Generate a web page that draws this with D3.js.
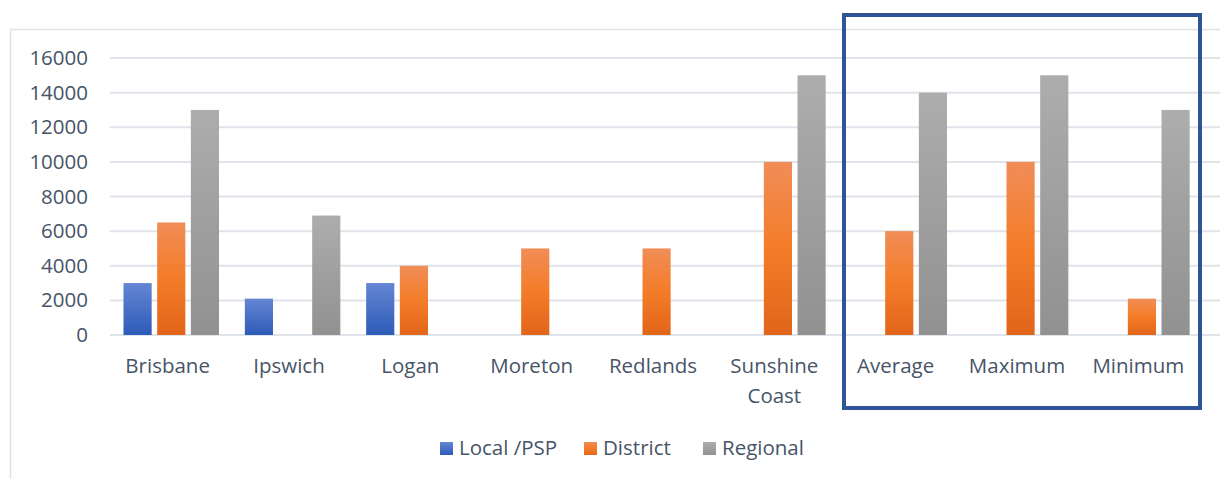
<!DOCTYPE html>
<html>
<head>
<meta charset="utf-8">
<script src="https://cdn.jsdelivr.net/npm/d3@7"></script>
<style>
  body { margin: 0; background: #fff; }
  svg { display: block; font-family: "Open Sans", "Noto Sans", sans-serif; }
</style>
</head>
<body>
<script>
const width = 1220;
const height = 479;

const categories = ['Brisbane', 'Ipswich', 'Logan', 'Moreton', 'Redlands', 'Sunshine Coast', 'Average', 'Maximum', 'Minimum'];
const seriesNames = ['Local /PSP', 'District', 'Regional'];
const localPsp = [3000, 2100, 3000, 0, 0, 0, 0, 0, 0];
const district = [6500, 0, 4000, 5000, 5000, 10000, 6000, 10000, 2100];
const regional = [13000, 6900, 0, 0, 0, 15000, 14000, 15000, 13000];
const yTicks = [0, 2000, 4000, 6000, 8000, 10000, 12000, 14000, 16000];
const highlighted = ['Average', 'Maximum', 'Minimum'];

const seriesValues = [localPsp, district, regional];
const gradients = [
    ['#6486d3', '#2d5bb8'],
    ['#f08d57', '#f47c28', '#e1651a'],
    ['#adadad', '#919191']
];
const textColor = '#475468';

const svg = d3.select('body').append('svg')
    .attr('width', width)
    .attr('height', height);

const defs = svg.append('defs');
gradients.forEach((stops, i) => {
    const g = defs.append('linearGradient')
        .attr('id', 'grad' + i)
        .attr('x1', 0).attr('y1', 0).attr('x2', 0).attr('y2', 1);
    stops.forEach((c, j) => {
        g.append('stop')
            .attr('offset', j / (stops.length - 1))
            .attr('stop-color', c);
    });
});

// chart area border
svg.append('rect')
    .attr('x', 10.5).attr('y', 29.5)
    .attr('width', 1240).attr('height', 480)
    .attr('fill', 'none')
    .attr('stroke', '#dde1e8')
    .attr('stroke-width', 1.5);

const x0 = d3.scaleBand().domain(categories).range([107, 1199]);
const x1 = d3.scaleBand().domain(seriesNames).range([16.5, 112]).paddingInner(0.164);
const y = d3.scaleLinear().domain([0, 16000]).range([335, 58]);

// gridlines
svg.append('g').selectAll('line')
    .data(yTicks)
    .enter().append('line')
    .attr('x1', 110).attr('x2', width)
    .attr('y1', d => y(d)).attr('y2', d => y(d))
    .attr('stroke', '#dfe3ea')
    .attr('stroke-width', 2);

// y axis labels
const yAxis = d3.axisLeft(y).tickValues(yTicks).tickSize(0).tickPadding(0).tickFormat(d3.format('d'));
svg.append('g')
    .attr('transform', 'translate(88,0)')
    .call(yAxis)
    .call(g => g.select('.domain').remove())
    .call(g => g.selectAll('text')
        .attr('fill', textColor)
        .attr('font-size', 20.5)
        .attr('font-family', '"Open Sans", sans-serif'));

// bars
const rows = categories.map((c, i) => ({ cat: c, vals: seriesValues.map(s => s[i]) }));
const groups = svg.append('g').selectAll('g')
    .data(rows)
    .enter().append('g')
    .attr('transform', d => `translate(${x0(d.cat)},0)`);

groups.selectAll('rect')
    .data(d => d.vals.map((v, i) => ({ v, i })).filter(e => e.v > 0))
    .enter().append('rect')
    .attr('x', d => x1(seriesNames[d.i]))
    .attr('width', x1.bandwidth())
    .attr('y', d => y(d.v))
    .attr('height', d => y(0) - y(d.v))
    .attr('fill', d => `url(#grad${d.i})`);

// category labels
const xLabels = svg.append('g').selectAll('text')
    .data(categories)
    .enter().append('text')
    .attr('x', d => x0(d) + x0.bandwidth() / 2)
    .attr('y', 373)
    .attr('text-anchor', 'middle')
    .attr('fill', textColor)
    .attr('font-size', 20.5);
xLabels.each(function (d) {
    const words = d.split(' ');
    const t = d3.select(this);
    words.forEach((w, i) => {
        t.append('tspan')
            .attr('x', x0(d) + x0.bandwidth() / 2)
            .attr('dy', i === 0 ? 0 : 30)
            .text(w);
    });
});

// highlight box around summary columns
svg.append('rect')
    .attr('x', 844).attr('y', 15)
    .attr('width', 356).attr('height', 393)
    .attr('fill', 'none')
    .attr('stroke', '#2f5597')
    .attr('stroke-width', 4);

// legend
const legend = svg.append('g');
const legendX = [440, 584, 703];
seriesNames.forEach((name, i) => {
    legend.append('rect')
        .attr('x', legendX[i]).attr('y', 442)
        .attr('width', 13).attr('height', 13)
        .attr('fill', `url(#grad${i})`);
    legend.append('text')
        .attr('x', legendX[i] + 19).attr('y', 455)
        .attr('fill', textColor)
        .attr('font-size', 20.5)
        .text(name);
});
</script>
</body>
</html>
